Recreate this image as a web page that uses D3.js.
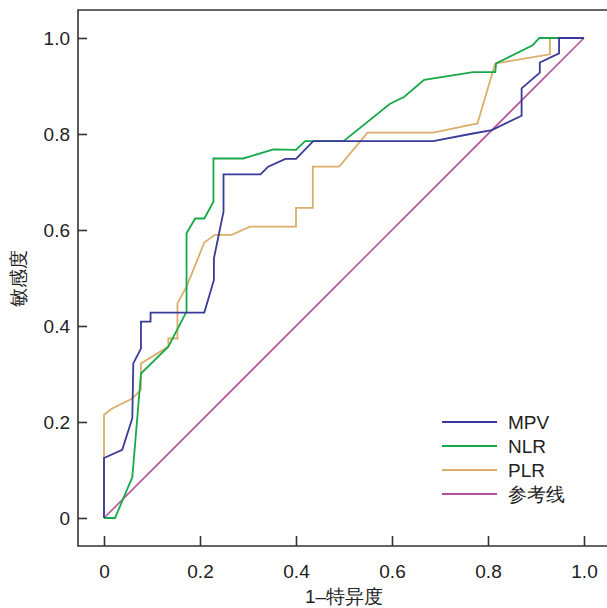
<!DOCTYPE html>
<html>
<head>
<meta charset="utf-8">
<script src="https://cdn.jsdelivr.net/npm/d3@7"></script>
<style>
  body { margin: 0; background: #fff; }
  text { font-family: "Liberation Sans", Arial, sans-serif; fill: #222; }
</style>
</head>
<body>
<div id="chart"></div>
<script>
// ROC points: [1-specificity, sensitivity]
var mpv = [[0,0],[0,0.125],[0.038,0.142],[0.059,0.208],[0.061,0.322],[0.077,0.353],[0.077,0.409],
  [0.097,0.409],[0.097,0.428],[0.209,0.428],[0.229,0.496],[0.229,0.541],[0.249,0.638],[0.249,0.716],
  [0.326,0.716],[0.342,0.732],[0.378,0.748],[0.4,0.748],[0.436,0.785],[0.686,0.785],[0.763,0.8],
  [0.808,0.808],[0.87,0.838],[0.87,0.895],[0.908,0.928],[0.908,0.949],[0.948,0.968],[0.948,1],[1,1]];
var nlr = [[0,0],[0.023,0],[0.059,0.085],[0.077,0.301],[0.134,0.357],[0.172,0.43],[0.172,0.593],
  [0.19,0.624],[0.209,0.624],[0.228,0.659],[0.228,0.749],[0.29,0.749],[0.353,0.768],[0.4,0.767],
  [0.419,0.785],[0.499,0.785],[0.596,0.863],[0.625,0.877],[0.667,0.913],[0.769,0.929],[0.815,0.929],
  [0.817,0.947],[0.893,0.985],[0.907,1],[1,1]];
var plr = [[0,0],[0,0.215],[0.017,0.228],[0.059,0.249],[0.077,0.267],[0.077,0.322],[0.134,0.357],
  [0.134,0.374],[0.153,0.374],[0.153,0.447],[0.172,0.482],[0.209,0.574],[0.231,0.59],[0.266,0.59],
  [0.304,0.607],[0.4,0.607],[0.4,0.646],[0.435,0.646],[0.435,0.732],[0.49,0.732],[0.549,0.803],
  [0.686,0.803],[0.778,0.822],[0.815,0.947],[0.929,0.966],[0.929,1],[1,1]];
var refLine = [[0,0],[1,1]];

var seriesNames = ["MPV", "NLR", "PLR", "参考线"];
var seriesColors = ["#3a3a99", "#18a84a", "#dbae6c", "#b4519a"];
var tickValues = [0, 0.2, 0.4, 0.6, 0.8, 1.0];
var tickLabels = ["0", "0.2", "0.4", "0.6", "0.8", "1.0"];

var svgWidth = 607, svgHeight = 608;

var svg = d3.select("#chart").append("svg")
  .attr("width", svgWidth)
  .attr("height", svgHeight);

var x = d3.scaleLinear().domain([0, 1]).range([104, 584]);
var y = d3.scaleLinear().domain([0, 1]).range([518, 38]);

// frame (left, top, bottom; right side runs off the picture)
svg.append("path")
  .attr("d", "M620,10H78V546H620")
  .attr("fill", "none")
  .attr("stroke", "#333")
  .attr("stroke-width", 1.6);

var fmt = function(d, i) { return tickLabels[i]; };

var xAxis = svg.append("g")
  .attr("transform", "translate(0,546)")
  .call(d3.axisBottom(x).tickValues(tickValues).tickFormat(fmt).tickSize(-10).tickPadding(19));
var yAxis = svg.append("g")
  .attr("transform", "translate(78,0)")
  .call(d3.axisLeft(y).tickValues(tickValues).tickFormat(fmt).tickSize(-9).tickPadding(8));

[xAxis, yAxis].forEach(function(g) {
  g.select(".domain").remove();
  g.selectAll("line").attr("stroke", "#333").attr("stroke-width", 1.6);
  g.selectAll("text").style("font-size", "19px").attr("fill", "#222");
});

// axis titles
svg.append("text")
  .attr("x", 344).attr("y", 603)
  .attr("text-anchor", "middle")
  .style("font-size", "19px")
  .text("1\u2013特异度");

svg.append("text")
  .attr("transform", "translate(25,278) rotate(-90)")
  .attr("text-anchor", "middle")
  .style("font-size", "19px")
  .text("敏感度");

var line = d3.line().x(d => x(d[0])).y(d => y(d[1]));

// drawn back to front
var drawOrder = [[refLine, 3, 1.6], [plr, 2, 1.8], [nlr, 1, 1.8], [mpv, 0, 1.8]];
drawOrder.forEach(function(s) {
  svg.append("path")
    .datum(s[0])
    .attr("d", line)
    .attr("fill", "none")
    .attr("stroke", seriesColors[s[1]])
    .attr("stroke-width", s[2])
    .attr("stroke-linejoin", "miter");
});

// legend
var legend = svg.append("g").attr("transform", "translate(442,422)");
seriesNames.forEach(function(name, i) {
  var row = legend.append("g").attr("transform", "translate(0," + (i * 24) + ")");
  row.append("line")
    .attr("x1", 0).attr("x2", 55)
    .attr("stroke", seriesColors[i])
    .attr("stroke-width", 1.8);
  row.append("text")
    .attr("x", 66).attr("y", 7)
    .style("font-size", "19px")
    .text(name);
});
</script>
</body>
</html>
